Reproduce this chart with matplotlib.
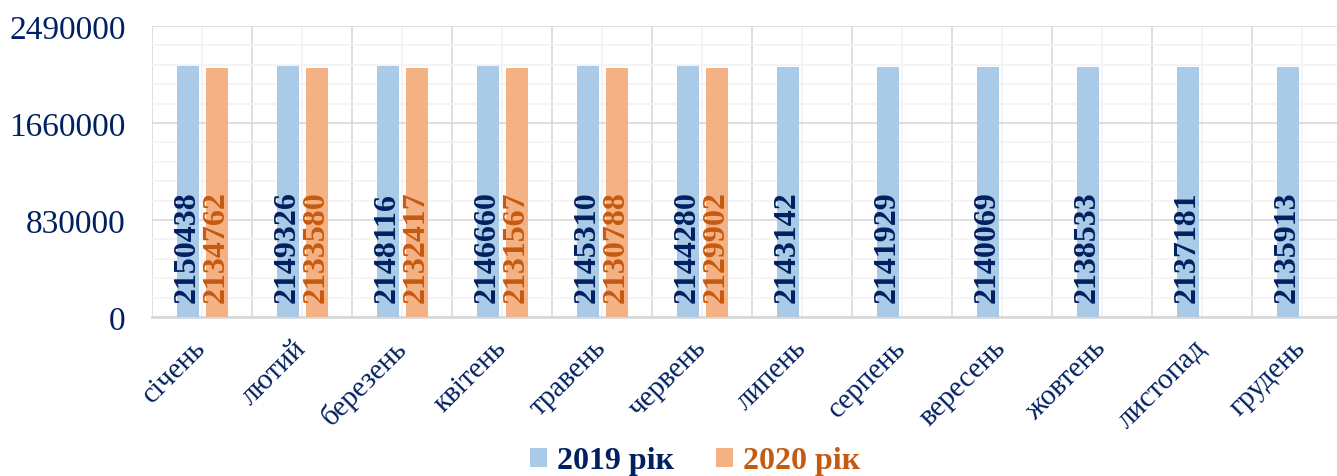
import numpy as np
from matplotlib import pyplot as plt
from matplotlib.ticker import MultipleLocator

plt.rcParams['font.family'] = ['Liberation Serif', 'DejaVu Serif']

months = ['січень', 'лютий', 'березень', 'квітень', 'травень', 'червень',
          'липень', 'серпень', 'вересень', 'жовтень', 'листопад', 'грудень']
values_2019 = [2150438, 2149326, 2148116, 2146660, 2145310, 2144280,
               2143142, 2141929, 2140069, 2138533, 2137181, 2135913]
values_2020 = [2134762, 2133580, 2132417, 2131567, 2130788, 2129902]

navy = '#002060'
orange = '#C55A11'
blue_bar = '#A9CBE8'
orange_bar = '#F4B183'

fig = plt.figure(figsize=(13.37, 4.77), dpi=100)
ax = fig.add_axes([152 / 1337, 1 - 318 / 477, 1200 / 1337, 291 / 477])

x = np.arange(len(months))
w = 0.22
b1 = ax.bar(x - 0.145, values_2019, w, color=blue_bar, label='2019 рік', zorder=3)
x2 = np.arange(len(values_2020))
b2 = ax.bar(x2 + 0.145, values_2020, w, color=orange_bar, label='2020 рік', zorder=3)

# value labels inside bars, near the base
for xi, v in zip(x - 0.145, values_2019):
    ax.annotate(str(v), (xi, 0), xytext=(0, 11), textcoords='offset points',
                rotation=90, ha='center', va='bottom', fontsize=23,
                fontweight='bold', color=navy, zorder=4)
for xi, v in zip(x2 + 0.145, values_2020):
    ax.annotate(str(v), (xi, 0), xytext=(0, 11), textcoords='offset points',
                rotation=90, ha='center', va='bottom', fontsize=23,
                fontweight='bold', color=orange, zorder=4)

ax.set_xlim(-0.5, len(months) - 0.5)
ax.set_ylim(0, 2490000)
ax.yaxis.set_minor_locator(MultipleLocator(166000))
ax.set_yticks([0, 830000, 1660000, 2490000])
ax.set_yticklabels(['0', '830000', '1660000', '2490000'])

ax.set_xticks(x)
ax.set_xticklabels(months, rotation=45, ha='right', va='center', rotation_mode='anchor')
ax.set_xticks(np.arange(-0.5, len(months), 1.0), minor=True)

ax.tick_params(axis='both', which='both', length=0, colors=navy)
ax.tick_params(axis='y', labelsize=24, pad=19)
ax.tick_params(axis='x', labelsize=21, pad=19)

ax.grid(which='major', axis='y', color='#D9D9D9', linewidth=1.2, zorder=0)
ax.grid(which='minor', axis='y', color='#F2F2F2', linewidth=1.2, zorder=0)
ax.grid(which='minor', axis='x', color='#D9D9D9', linewidth=1.2, zorder=0)
ax.grid(which='major', axis='x', color='#F2F2F2', linewidth=1.2, zorder=0)

for s in ['top', 'right', 'left']:
    ax.spines[s].set_visible(False)
ax.spines['bottom'].set_color('#D9D9D9')
ax.spines['bottom'].set_linewidth(2)

leg = fig.legend(handles=[b1, b2], loc='center', bbox_to_anchor=(695 / 1337, 1 - 462 / 477),
                 ncol=2, frameon=False, prop={'size': 23, 'weight': 'bold'},
                 handlelength=0.55, handleheight=0.55, handletextpad=0.3, columnspacing=1.3)
for t, c in zip(leg.get_texts(), [navy, orange]):
    t.set_color(c)

fig.savefig('out.png', dpi=100)
